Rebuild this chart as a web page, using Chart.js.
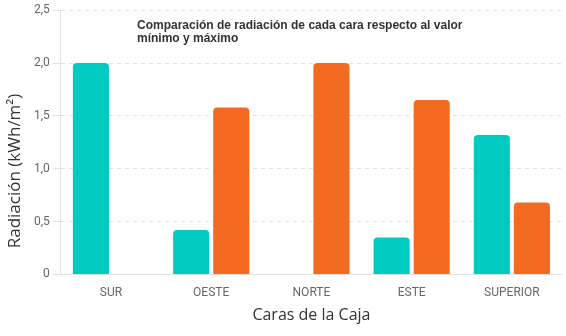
<!DOCTYPE html>
<html>
<head>
<meta charset="utf-8">
<script src="https://cdn.jsdelivr.net/npm/chart.js@4"></script>
<style>
html,body{margin:0;padding:0;background:#fff;}
#wrap{width:566px;height:336px;}
</style>
</head>
<body>
<div id="wrap"><canvas id="c" width="566" height="336"></canvas></div>
<script>
const categories = ['SUR', 'OESTE', 'NORTE', 'ESTE', 'SUPERIOR'];
const seriesMin = [2.0, 0.42, 0, 0.35, 1.32];
const seriesMax = [0, 1.58, 2.0, 1.65, 0.68];
const titleLines = ['Comparación de radiación de cada cara respecto al valor', 'mínimo y máximo'];
const yTitle = 'Radiación (kWh/m²)';
const xTitle = 'Caras de la Caja';

const innerTitle = {
  id: 'innerTitle',
  afterDraw(chart) {
    const ctx = chart.ctx;
    ctx.save();
    ctx.font = 'bold 12px "Liberation Sans", Arial, sans-serif';
    ctx.fillStyle = '#333';
    ctx.textBaseline = 'alphabetic';
    ctx.textAlign = 'left';
    titleLines.forEach((t, i) => ctx.fillText(t, 137, 29 + i * 13));
    ctx.restore();
    // y axis title, drawn centred lower like the reference
    ctx.save();
    ctx.font = '17px "Open Sans"';
    ctx.fillStyle = '#333';
    ctx.textAlign = 'center';
    ctx.textBaseline = 'middle';
    ctx.translate(15, 171);
    ctx.rotate(-Math.PI / 2);
    ctx.fillText(yTitle, 0, 0);
    ctx.restore();
  }
};

new Chart(document.getElementById('c'), {
  type: 'bar',
  data: {
    labels: categories,
    datasets: [
      { label: 'Mínimo', data: seriesMin, backgroundColor: '#00CBC0', borderRadius: 4, borderSkipped: 'start' },
      { label: 'Máximo', data: seriesMax, backgroundColor: '#F56A21', borderRadius: 4, borderSkipped: 'start' }
    ]
  },
  options: {
    responsive: false,
    animation: false,
    devicePixelRatio: 1,
    layout: { padding: { top: 4, right: 4, left: 5, bottom: 8 } },
    plugins: { legend: { display: false }, title: { display: false }, tooltip: { enabled: false } },
    scales: {
      x: {
        grid: { display: false },
        border: { display: true, color: '#e0e0e0', width: 1 },
        ticks: { color: '#666', font: { family: 'Roboto', size: 12 }, padding: 3 },
        title: { display: true, text: xTitle, color: '#333', font: { family: '"Open Sans"', size: 16 }, padding: { top: 3, bottom: 3 } }
      },
      y: {
        min: 0, max: 2.5,
        ticks: {
          stepSize: 0.5, color: '#666', font: { family: 'Roboto', size: 12 }, padding: 3,
          callback: v => v === 0 ? '0' : v.toFixed(1).replace('.', ',')
        },
        grid: { color: '#e3e3e3', tickLength: 8, tickColor: '#e3e3e3', tickBorderDash: [] },
        border: { display: true, color: '#e0e0e0', dash: [4, 4] },
        title: { display: true, text: yTitle, color: 'rgba(0,0,0,0)', font: { family: '"Open Sans"', size: 15 }, padding: { bottom: 4 } }
      }
    }
  },
  plugins: [innerTitle]
});
</script>
</body>
</html>
